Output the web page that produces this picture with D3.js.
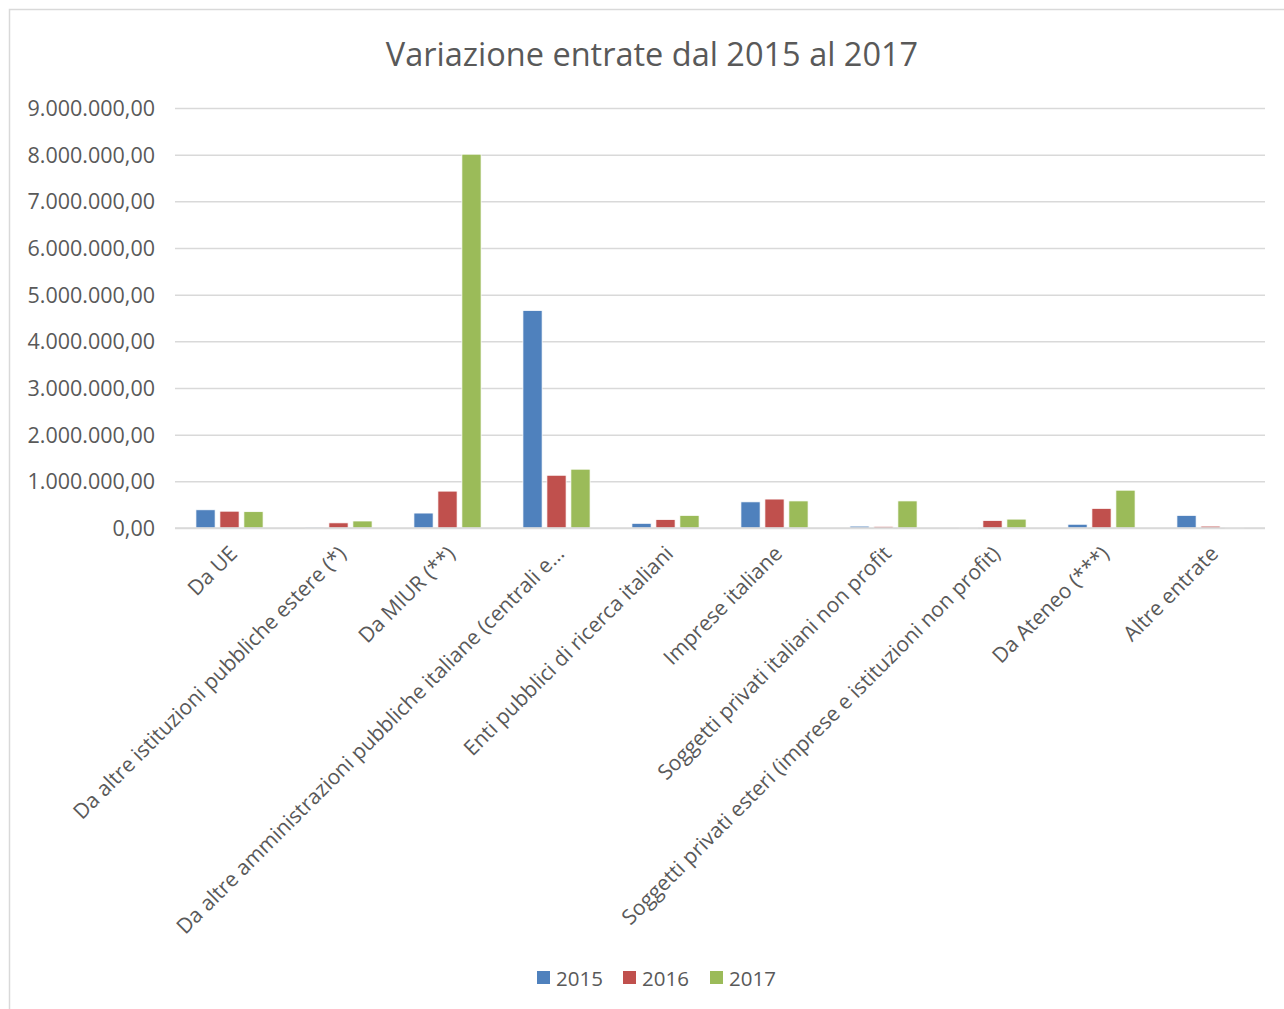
<!DOCTYPE html>
<html><head><meta charset="utf-8">
<script src="https://cdn.jsdelivr.net/npm/d3@7"></script>
<style>body{margin:0;background:#fff}svg{display:block}text{font-family:"Open Sans",sans-serif}</style>
</head><body>
<script>
const categories = ["Da UE","Da altre istituzioni pubbliche estere (*)","Da MIUR (**)","Da altre amministrazioni pubbliche italiane (centrali e…","Enti pubblici di ricerca italiani","Imprese italiane","Soggetti privati italiani non profit","Soggetti privati esteri (imprese e istituzioni non profit)","Da Ateneo (***)","Altre entrate"];
const seriesNames = ["2015","2016","2017"];
const values2015 = [390000, 20000, 320000, 4660000, 100000, 560000, 40000, 15000, 80000, 270000];
const values2016 = [360000, 110000, 790000, 1130000, 180000, 620000, 35000, 160000, 420000, 40000];
const values2017 = [350000, 150000, 8010000, 1260000, 270000, 580000, 580000, 190000, 810000, 10000];
const colors = ["#4F81BD","#C0504D","#9BBB59"];
const yTicks = [0,1000000,2000000,3000000,4000000,5000000,6000000,7000000,8000000,9000000];

(function(){
const W=1284,H=1009;
const svg=d3.select("body").append("svg").attr("width",W).attr("height",H);
svg.append("rect").attr("x",9.5).attr("y",9.5).attr("width",1300).attr("height",1100).attr("fill","#fff").attr("stroke","#D9D9D9").attr("stroke-width",1.5);

svg.append("text").attr("x",652).attr("y",66).attr("text-anchor","middle").attr("font-size",32.5).attr("fill","#595959").text("Variazione entrate dal 2015 al 2017");

const pl=175,pr=1265,pt=108,pb=528;
const y=d3.scaleLinear().domain([0,9000000]).range([pb,pt]);
const x0=d3.scaleBand().domain(categories).range([pl,pr]).paddingInner(0.34).paddingOuter(0.17);
const x1=d3.scaleBand().domain(seriesNames).range([0,x0.bandwidth()]).paddingInner(0.2).paddingOuter(0.1);

const fmt=v=>{const s=d3.format(",.2f")(v);return s.replace(/,/g,"#").replace(".",",").replace(/#/g,".");};

const yAxis=svg.append("g").attr("transform",`translate(${pl},0)`).call(d3.axisLeft(y).tickValues(yTicks).tickSize(-(pr-pl)).tickFormat(fmt));
yAxis.select(".domain").remove();
yAxis.selectAll(".tick line").attr("stroke","#D9D9D9").attr("stroke-width",1.5);
yAxis.selectAll(".tick text").attr("x",-20).attr("font-size",21.5).attr("fill","#595959").attr("dy","0.35em").style("font-family","'Open Sans',sans-serif");

const data=categories.map((c,i)=>({c,vals:[values2015[i],values2016[i],values2017[i]]}));
const g=svg.append("g");
data.forEach(d=>{
  d.vals.forEach((v,j)=>{
    g.append("rect").attr("x",x0(d.c)+x1(seriesNames[j])).attr("y",y(v)).attr("width",x1.bandwidth()).attr("height",pb-y(v)).attr("fill",colors[j]).attr("stroke","#fff").attr("stroke-width",0.75);
  });
});
svg.append("line").attr("x1",pl).attr("x2",pr).attr("y1",pb).attr("y2",pb).attr("stroke","#D9D9D9").attr("stroke-width",1.5);

const xl=svg.append("g");
categories.forEach(c=>{
  const cx=x0(c)+x0.bandwidth()/2;
  xl.append("text").attr("transform",`translate(${cx+9},${pb+27}) rotate(-45)`).attr("text-anchor","end").attr("font-size",21).attr("fill","#595959").text(c);
});

const legX=[537,623,710];
seriesNames.forEach((s,j)=>{
  svg.append("rect").attr("x",legX[j]).attr("y",971).attr("width",13).attr("height",13).attr("fill",colors[j]);
  svg.append("text").attr("x",legX[j]+19).attr("y",985.5).attr("font-size",20.5).attr("fill","#595959").text(s);
});
})();
</script>
</body></html>
